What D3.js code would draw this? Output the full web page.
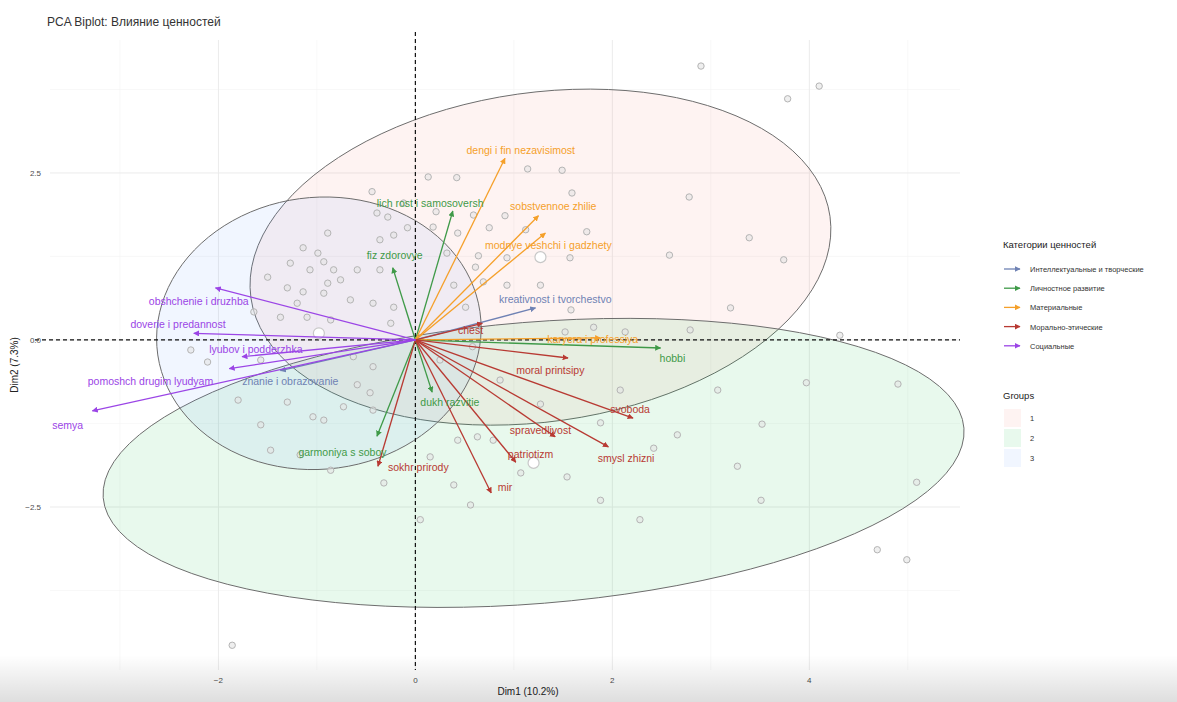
<!DOCTYPE html>
<html>
<head>
<meta charset="utf-8">
<script src="https://cdn.jsdelivr.net/npm/d3@7"></script>
<style>
  body { margin: 0; background: #fff; }
  svg text { font-family: "Liberation Sans", Arial, sans-serif; }
</style>
</head>
<body>
<svg id="canvas"></svg>
<script>
// ---- data (Dim1 / Dim2 units) ----
let categories = ['Интеллектуальные и творческие', 'Личностное развитие', 'Материальные', 'Морально-этические', 'Социальные']
let catColors = ['#6f82b4', '#3f9a48', '#f5a02a', '#b83a33', '#9b45e6']

let arrowNames = ['kreativnost i tvorchestvo', 'znanie i obrazovanie',
  'lich rost i samosoversh', 'fiz zdorovye', 'hobbi', 'dukh razvitie', 'garmoniya s soboy',
  'dengi i fin nezavisimost', 'sobstvennoe zhilie', 'modnye veshchi i gadzhety', 'karyera i professiya',
  'moral printsipy', 'svoboda', 'spravedlivost', 'smysl zhizni', 'patriotizm', 'mir', 'sokhr prirody', 'chest',
  'obshchenie i druzhba', 'doverie i predannost', 'lyubov i podderzhka', 'pomoshch drugim lyudyam', 'semya']
let arrowCat = [0, 0, 1, 1, 1, 1, 1, 2, 2, 2, 2, 3, 3, 3, 3, 3, 3, 3, 3, 4, 4, 4, 4, 4]
let arrowX = [1.22, -1.37, 0.38, -0.23, 2.49, 0.17, -0.39, 0.91, 1.25, 1.32, 1.88,
  1.55, 2.21, 1.42, 1.96, 1.02, 0.77, -0.38, 0.68, -2.03, -2.25, -1.76, -1.89, -3.28]
let arrowY = [0.48, -0.46, 1.93, 1.08, -0.12, -0.78, -1.44, 2.72, 1.86, 1.60, 0.03,
  -0.27, -1.17, -1.45, -1.60, -1.83, -2.29, -1.89, 0.25, 0.78, 0.10, -0.25, -0.43, -1.06]
let labelX = [1.42, -1.27, 0.15, -0.21, 2.61, 0.35, -0.74, 1.07, 1.40, 1.35, 1.80,
  1.37, 2.18, 1.27, 2.14, 1.17, 0.91, 0.03, 0.56, -2.20, -2.41, -1.62, -2.69, -3.53]
let labelY = [0.61, -0.61, 2.05, 1.27, -0.27, -0.93, -1.68, 2.84, 2.01, 1.42, 0.01,
  -0.45, -1.03, -1.35, -1.77, -1.71, -2.20, -1.90, 0.15, 0.58, 0.24, -0.13, -0.61, -1.27]

let pointX = [2.90, 4.10, 3.78, 2.78, 3.39, 2.58, 3.74, 3.20, 1.59, 1.74, 1.57, 1.58, 1.49, 4.31,
  0.42, 0.91, 1.12, 0.75, 0.18, 0.43, 0.64, 1.27, 1.81, 1.52, 0.51, 0.69, 0.61, 0.58,
  -0.44, 0.13, 1.14, -0.39, -0.28, -0.08, 0.59, -0.36, -0.22, -0.89, -1.14, -1.27, -0.99,
  -1.07, -0.93, -0.83, -0.76, -0.59, -1.50, -1.30, -1.14, -0.89, 0.32, 0.93, 0.93, 0.39,
  -0.36, -0.93, -1.20, -1.64, -1.37, -1.10, -0.86, -0.66, -0.43, -0.22, -0.25, -2.28, -2.11,
  -1.57, -0.63, -0.43, -1.30, -1.57, -1.04, -0.93, -0.73, -0.59, -0.43, -0.46, -1.17, -0.32,
  0.39, 0.15, 0.43, 0.63, 0.79, 1.07, 1.54, 1.88, 2.08, 2.66, 2.42, 4.90, 5.09, 4.69, 4.99,
  3.52, 3.27, 3.51, -1.86, 2.28, 1.88, 3.07, 3.97, 0.21, -0.12, 0.25, 0.86, 1.27, 2.79, 2.13,
  0.05, 0.56, -0.86, -1.47, -1.80]
let pointY = [4.10, 3.80, 3.61, 2.14, 1.53, 1.27, 1.20, 0.48, 2.20, 1.62, 1.23, 0.45, 2.54, 0.07,
  2.43, 1.86, 1.65, 1.68, 1.69, 1.60, 1.26, 0.82, 0.19, 0.12, 0.49, 0.87, 1.09, -0.10,
  2.22, 2.44, 2.56, 1.90, 1.84, 1.68, 1.87, 1.50, 1.57, 1.60, 1.38, 1.15, 1.30,
  1.05, 1.17, 1.05, 0.90, 1.05, 0.94, 0.78, 0.72, 0.85, 1.30, 1.23, 0.82, 0.82,
  1.05, 0.70, 0.55, 0.42, 0.34, 0.34, 0.30, 0.60, 0.55, 0.49, 0.25, -0.15, -0.33,
  -0.30, -0.25, -0.40, -0.93, -1.27, -1.15, -1.20, -1.00, -0.67, -1.05, -0.79, -1.72, -2.14,
  -2.17, -1.75, -1.50, -1.45, -1.50, -1.99, -2.05, -1.24, -0.75, -1.42, -1.62, -0.66, -2.13, -3.14, -3.29,
  -1.26, -1.89, -2.40, -4.57, -2.69, -2.40, -0.75, -0.64, 1.92, 2.05, -0.30, -0.60, -0.96, 0.15, 0.12,
  -2.69, -2.47, -1.95, -1.65, -0.90]

let groups = ['1', '2', '3']
let groupColors = ['#F8766D', '#00BA38', '#619CFF']
let centroidX = [1.27, 1.20, -0.98]
let centroidY = [1.24, -1.84, 0.10]
// ellipse conjugate semi-axes (Dim units)
let ellUx = [2.94, 4.37, 1.62]
let ellUy = [0.61, 0.52, 0.45]
let ellVx = [0.23, 0.11, 0.30]
let ellVy = [-2.44, -2.10, -1.99]

let xTicks = [-2, 0, 2, 4]
let xMinor = [-3, -1, 1, 3, 5]
let yTicks = [-2.5, 0, 2.5]
let yMinor = [-3.75, -1.25, 1.25, 3.75]

// ---- drawing ----
let width = 1177
let height = 702

let svg = d3.select('#canvas').attr('width', width).attr('height', height)

let xScale = d3.scaleLinear().domain([-3.71, 5.53]).range([50, 960])
let yScale = d3.scaleLinear().domain([-4.94, 4.49]).range([670, 40])

let defs = svg.append('defs')
catColors.forEach((c, i) => {
  defs.append('marker')
    .attr('id', 'arr' + i)
    .attr('viewBox', '0 0 10 10')
    .attr('refX', 9).attr('refY', 5)
    .attr('markerWidth', 6).attr('markerHeight', 6)
    .attr('markerUnits', 'userSpaceOnUse')
    .attr('orient', 'auto')
    .append('path')
    .attr('d', 'M0,0 L10,5 L0,10 z')
    .attr('fill', c)
})

// grid
let grid = svg.append('g')
grid.selectAll('.xminor').data(xMinor).enter().append('line')
  .attr('x1', d => xScale(d)).attr('x2', d => xScale(d))
  .attr('y1', yScale.range()[1]).attr('y2', yScale.range()[0])
  .attr('stroke', '#f4f4f4').attr('stroke-width', 0.6)
grid.selectAll('.yminor').data(yMinor).enter().append('line')
  .attr('y1', d => yScale(d)).attr('y2', d => yScale(d))
  .attr('x1', xScale.range()[0]).attr('x2', xScale.range()[1])
  .attr('stroke', '#f4f4f4').attr('stroke-width', 0.6)
grid.selectAll('.xmajor').data(xTicks).enter().append('line')
  .attr('x1', d => xScale(d)).attr('x2', d => xScale(d))
  .attr('y1', yScale.range()[1]).attr('y2', yScale.range()[0])
  .attr('stroke', '#ebebeb').attr('stroke-width', 1)
grid.selectAll('.ymajor').data(yTicks).enter().append('line')
  .attr('y1', d => yScale(d)).attr('y2', d => yScale(d))
  .attr('x1', xScale.range()[0]).attr('x2', xScale.range()[1])
  .attr('stroke', '#ebebeb').attr('stroke-width', 1)

// ellipses
let ellLine = d3.line().x(d => xScale(d[0])).y(d => yScale(d[1])).curve(d3.curveLinearClosed)
groups.forEach((g, i) => {
  let pts = d3.range(0, 100).map(k => {
    let t = k / 100 * 2 * Math.PI
    return [centroidX[i] + ellUx[i] * Math.cos(t) + ellVx[i] * Math.sin(t),
            centroidY[i] + ellUy[i] * Math.cos(t) + ellVy[i] * Math.sin(t)]
  })
  svg.append('path')
    .attr('d', ellLine(pts))
    .attr('fill', groupColors[i]).attr('fill-opacity', 0.09)
    .attr('stroke', '#6d6d6d').attr('stroke-width', 1)
})

// dashed reference lines
svg.append('line')
  .attr('x1', xScale(0)).attr('x2', xScale(0))
  .attr('y1', yScale.range()[1] - 8).attr('y2', yScale.range()[0])
  .attr('stroke', '#111').attr('stroke-width', 1.2).attr('stroke-dasharray', '4,3')
svg.append('line')
  .attr('x1', xScale.range()[0] - 15).attr('x2', xScale.range()[1])
  .attr('y1', yScale(0)).attr('y2', yScale(0))
  .attr('stroke', '#111').attr('stroke-width', 1.2).attr('stroke-dasharray', '4,3')

// individuals
svg.append('g').selectAll('circle')
  .data(pointX)
  .enter()
  .append('circle')
  .attr('cx', (d) => xScale(d))
  .attr('cy', (d, i) => yScale(pointY[i]))
  .attr('r', 3.2)
  .attr('fill', '#e4e4e4').attr('fill-opacity', 0.6)
  .attr('stroke', '#b4b4b4').attr('stroke-width', 1)

// group centroids
svg.append('g').selectAll('circle')
  .data(centroidX)
  .enter()
  .append('circle')
  .attr('cx', (d) => xScale(d))
  .attr('cy', (d, i) => yScale(centroidY[i]))
  .attr('r', 5.5)
  .attr('fill', '#fff')
  .attr('stroke', '#c8c8c8').attr('stroke-width', 1.2)

// variable arrows
svg.append('g').selectAll('line')
  .data(arrowNames)
  .enter()
  .append('line')
  .attr('x1', xScale(0)).attr('y1', yScale(0))
  .attr('x2', (d, i) => xScale(arrowX[i]))
  .attr('y2', (d, i) => yScale(arrowY[i]))
  .attr('stroke', (d, i) => catColors[arrowCat[i]])
  .attr('stroke-width', 1.3)
  .attr('marker-end', (d, i) => 'url(#arr' + arrowCat[i] + ')')

svg.append('g').selectAll('text')
  .data(arrowNames)
  .enter()
  .append('text')
  .attr('x', (d, i) => xScale(labelX[i]))
  .attr('y', (d, i) => yScale(labelY[i]))
  .attr('text-anchor', 'middle')
  .attr('dominant-baseline', 'central')
  .attr('font-size', 10.5)
  .attr('fill', (d, i) => catColors[arrowCat[i]])
  .text(d => d)

// axes text
svg.append('g').selectAll('text')
  .data(xTicks).enter().append('text')
  .attr('x', d => xScale(d)).attr('y', 683)
  .attr('text-anchor', 'middle').attr('font-size', 8).attr('fill', '#4d4d4d')
  .text(d => d3.format('d')(d))
svg.append('g').selectAll('text')
  .data(yTicks).enter().append('text')
  .attr('x', 41).attr('y', d => yScale(d) + 3)
  .attr('text-anchor', 'end').attr('font-size', 8).attr('fill', '#4d4d4d')
  .text(d => d3.format('.1f')(d))

svg.append('text')
  .attr('x', 528).attr('y', 695)
  .attr('text-anchor', 'middle').attr('font-size', 10).attr('fill', '#222')
  .text('Dim1 (10.2%)')
svg.append('text')
  .attr('transform', 'translate(18,' + 365 + ') rotate(-90)')
  .attr('text-anchor', 'middle').attr('font-size', 10).attr('fill', '#222')
  .text('Dim2 (7.3%)')

svg.append('text')
  .attr('x', 47).attr('y', 26)
  .attr('font-size', 12).attr('fill', '#333')
  .text('PCA Biplot: Влияние ценностей')

// legends
let leg = svg.append('g').attr('transform', 'translate(1003,0)')
leg.append('text').attr('x', 0).attr('y', 248)
  .attr('font-size', 9.5).attr('fill', '#222').text('Категории ценностей')
categories.forEach((c, i) => {
  let y = 269 + i * 19.2
  leg.append('line')
    .attr('x1', 1).attr('x2', 17).attr('y1', y).attr('y2', y)
    .attr('stroke', catColors[i]).attr('stroke-width', 1.3)
    .attr('marker-end', 'url(#arr' + i + ')')
  leg.append('text').attr('x', 27).attr('y', y + 3)
    .attr('font-size', 7.5).attr('fill', '#333').text(c)
})
leg.append('text').attr('x', 0).attr('y', 399)
  .attr('font-size', 9.5).attr('fill', '#222').text('Groups')
groups.forEach((g, i) => {
  let y = 418 + i * 20
  leg.append('rect')
    .attr('x', 1).attr('y', y - 9).attr('width', 17).attr('height', 18)
    .attr('fill', groupColors[i]).attr('fill-opacity', 0.09)
  leg.append('text').attr('x', 27).attr('y', y + 3)
    .attr('font-size', 7.5).attr('fill', '#333').text(g)
})

// soft grey shading along the bottom edge of the photo
let grad = defs.append('linearGradient').attr('id', 'shade')
  .attr('x1', 0).attr('x2', 0).attr('y1', 0).attr('y2', 1)
grad.append('stop').attr('offset', '0%').attr('stop-color', '#000').attr('stop-opacity', 0)
grad.append('stop').attr('offset', '100%').attr('stop-color', '#000').attr('stop-opacity', 0.13)
svg.append('rect').attr('x', 0).attr('y', 655).attr('width', width).attr('height', 47)
  .attr('fill', 'url(#shade)')
</script>
</body>
</html>
